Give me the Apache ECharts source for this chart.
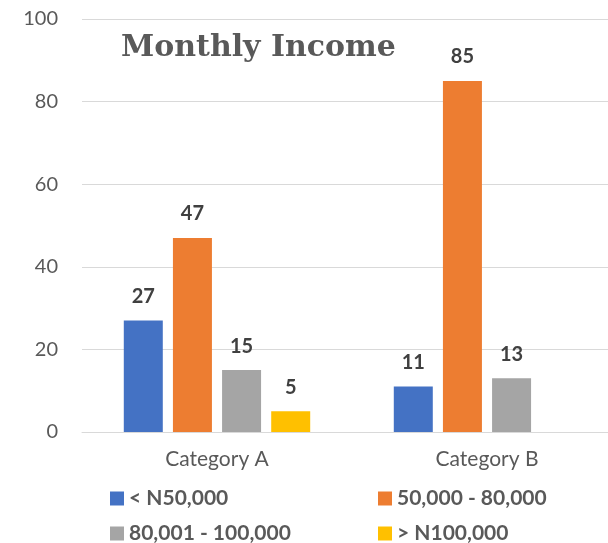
<!DOCTYPE html>
<html>
<head>
<meta charset="utf-8">
<script src="https://cdn.jsdelivr.net/npm/echarts@6/dist/echarts.min.js"></script>
<style>
  html, body { margin: 0; padding: 0; background: #fff; overflow: hidden; }
  /* the plot area runs a little past the right edge of the window, as in the source image */
  #chart { width: 622px; height: 543px; }
</style>
</head>
<body>
<div id="chart"></div>
<script>
var categories = ['Category A', 'Category B'];
var seriesNames = ['< N50,000', '50,000 - 80,000', '80,001 - 100,000', '> N100,000'];
var below50k = [27, 11];
var from50to80k = [47, 85];
var from80to100k = [15, 13];
var above100k = [5, null];
var yTicks = [0, 20, 40, 60, 80, 100];

var colors = ['#4472C4', '#ED7D31', '#A5A5A5', '#FFC000'];
var values = [below50k, from50to80k, from80to100k, above100k];

var chart = echarts.init(document.getElementById('chart'));

var series = [];
for (var i = 0; i < seriesNames.length; i++) {
  series.push({
    name: seriesNames[i],
    type: 'bar',
    data: values[i],
    barWidth: 39,
    barGap: '26%',
    itemStyle: { color: colors[i] },
    label: {
      show: true,
      position: 'top',
      distance: 14,
      color: '#404040',
      fontFamily: 'Lato',
      fontWeight: 'bold',
      fontSize: 20
    }
  });
}

// one legend per entry, two rows of two
var legendPos = [[110, 488], [378, 488], [110, 523], [378, 523]];
var legends = [];
for (var j = 0; j < seriesNames.length; j++) {
  legends.push({
    data: [seriesNames[j]],
    left: legendPos[j][0],
    top: legendPos[j][1],
    padding: 0,
    icon: 'rect',
    itemWidth: 14,
    itemHeight: 14,
    itemGap: 5,
    selectedMode: false,
    textStyle: { color: '#595959', fontFamily: 'Lato', fontWeight: 'bold', fontSize: 21 }
  });
}

var option = {
  backgroundColor: '#fff',
  animation: false,
  title: {
    text: 'Monthly Income',
    left: 116,
    top: 28,
    textStyle: { color: '#595959', fontFamily: 'DejaVu Serif', fontWeight: 'bold', fontSize: 30 }
  },
  legend: legends,
  grid: { left: 82, right: 0, top: 19, bottom: 111 },
  xAxis: {
    type: 'category',
    data: categories,
    axisTick: { show: false },
    axisLine: { lineStyle: { color: '#D9D9D9', width: 1 } },
    axisLabel: { color: '#595959', fontFamily: 'Lato', fontSize: 21, margin: 17 }
  },
  yAxis: {
    type: 'value',
    min: yTicks[0],
    max: yTicks[yTicks.length - 1],
    interval: yTicks[1] - yTicks[0],
    axisLine: { show: false },
    axisTick: { show: false },
    splitLine: { lineStyle: { color: '#D9D9D9', width: 1 } },
    axisLabel: { color: '#595959', fontFamily: 'Lato', fontSize: 20, margin: 24 }
  },
  series: series
};

chart.setOption(option);
</script>
</body>
</html>
